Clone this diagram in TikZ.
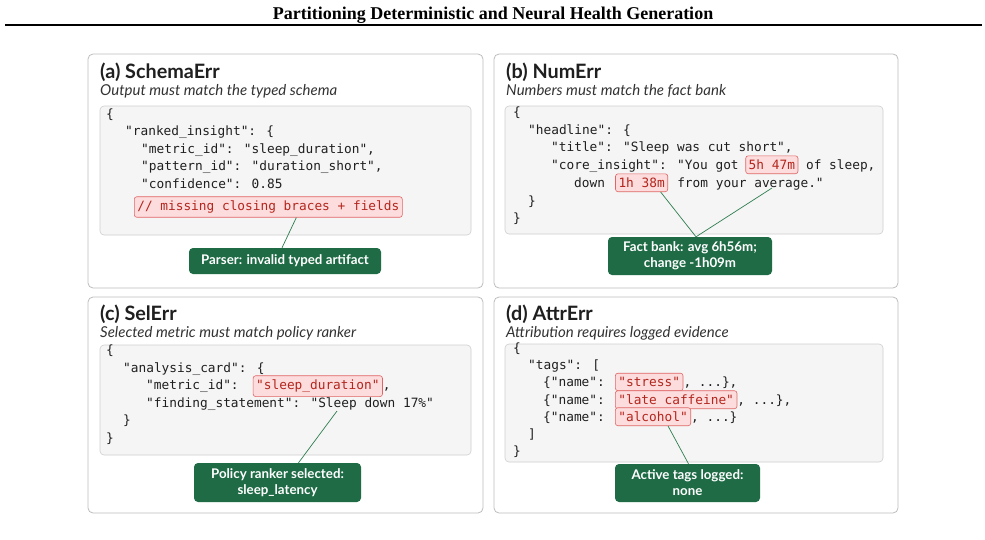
\documentclass[tikz,border=0pt]{standalone}
\usepackage{fontspec}
\setmainfont{Lato}
\newfontfamily\headfont{Liberation Serif}
\newfontfamily\monofont{DejaVu Sans Mono}
\usetikzlibrary{positioning}
\definecolor{cPanelB}{HTML}{BDBDBD}
\definecolor{cCode}{HTML}{F5F5F5}
\definecolor{cCodeB}{HTML}{CFCFCF}
\definecolor{cHl}{HTML}{FCDCDC}
\definecolor{cHlB}{HTML}{E06666}
\definecolor{cHlT}{HTML}{B3261E}
\definecolor{cVerd}{HTML}{1E6B45}
\definecolor{cTie}{HTML}{2E7D4F}
\definecolor{cInk}{HTML}{1F1F1F}
\newcommand{\codesize}{\monofont\fontsize{12.8}{15}\selectfont}
\tikzset{
  panel/.style   ={draw=cPanelB, fill=white, rounded corners=5pt, line width=0.8pt},
  codebox/.style ={draw=cCodeB, fill=cCode, rounded corners=4pt, line width=0.6pt},
  code/.style    ={anchor=mid west, inner sep=0pt, font=\codesize, text=cInk},
  hl/.style      ={draw=cHlB, fill=cHl, text=cHlT, rounded corners=2.5pt,
                   line width=0.6pt, inner xsep=3pt, inner ysep=4pt,
                   font=\codesize, anchor=mid west},
  ptitle/.style  ={anchor=base west, inner sep=0pt, text=cInk,
                   font=\bfseries\fontsize{19.8}{23}\selectfont},
  psub/.style    ={anchor=base west, inner sep=0pt, text=black!80,
                   font=\itshape\fontsize{15}{17}\selectfont},
  verdict/.style ={fill=cVerd, text=white, rounded corners=4pt, align=center,
                   font=\bfseries\fontsize{13.3}{16}\selectfont, inner sep=0pt},
  tie/.style     ={draw=cTie, line width=0.7pt},
}

\begin{document}
\begin{tikzpicture}[x=1pt, y=-1pt]
  \useasboundingbox (0,0) rectangle (985,539);

  % ---- page header ----
  \node[anchor=base, inner sep=0pt, font=\headfont\bfseries\fontsize{18}{20}\selectfont]
    (head) at (493,19) {Partitioning Deterministic and Neural Health Generation};
  \draw[line width=1.5pt] (5,25) -- (982,25);

  % ---- panel frames ----
  \draw[panel] (88,54) rectangle (483,288);
  \draw[panel] (494,54) rectangle (898,288);
  \draw[panel] (88,297) rectangle (483,513);
  \draw[panel] (494,297) rectangle (898,513);

  \draw[codebox] (100,106) rectangle (471,235);
  \draw[codebox] (505,106) rectangle (883,234);
  \draw[codebox] (100,345) rectangle (471,455);
  \draw[codebox] (505,344) rectangle (883,462);

  % ============================================================
  % (a) SchemaErr
  % ============================================================
  \node[ptitle] (tA) at (100,78) {(a) SchemaErr};
  \node[psub]   (sA) at (100,95) {Output must match the typed schema};

  \node[code] (a0) at (106,116) {\{};
  \node[code] (a1) at (125,133) {"ranked\_insight": \{};
  \node[code] (a2) at (141,151) {"metric\_id": "sleep\_duration",};
  \node[code] (a3) at (141,168) {"pattern\_id": "duration\_short",};
  \node[code] (a4) at (141,186) {"confidence": 0.85};
  \node[hl]   (hlA) at (134,208) {// missing closing braces + fields};

  \node[verdict, minimum width=192pt, minimum height=26pt] (vA) at (285,261)
    {Parser: invalid typed artifact};
  \draw[tie] ([xshift=28pt]hlA.south) -- ([xshift=-3pt]vA.north);

  % ============================================================
  % (b) NumErr
  % ============================================================
  \node[ptitle] (tB) at (506,78) {(b) NumErr};
  \node[psub]   (sB) at (506,95) {Numbers must match the fact bank};

  \node[code] (b0) at (513,114) {\{};
  \node[code] (b1) at (528,132) {"headline": \{};
  \node[code] (b2) at (551,149) {"title": "Sleep was cut short",};
  \node[code] (b3) at (551,167) {"core\_insight": "You got};
  \node[hl, right=6.5pt of b3.base east, anchor=base west] (hlB1) {5h 47m};
  \node[code, right=7.6pt of hlB1.base east, anchor=base west] (b3e) {of sleep,};
  \node[code] (b4) at (574,185) {down};
  \node[hl, right=10pt of b4.base east, anchor=base west] (hlB2) {1h 38m};
  \node[code, right=9pt of hlB2.base east, anchor=base west] (b4e) {from your average."};
  \node[code] (b5) at (528,203) {\}};
  \node[code] (b6) at (513,220) {\}};

  \node[verdict, minimum width=164pt, minimum height=38pt] (vB) at (690,256)
    {Fact bank: avg 6h56m;\\change -1h09m};
  \coordinate (avgB) at (772,188);
  \draw[tie] ([xshift=19pt]hlB2.south) -- ([xshift=6pt]vB.north);
  \draw[tie] (avgB) -- ([xshift=6pt]vB.north);

  % ============================================================
  % (c) SelErr
  % ============================================================
  \node[ptitle] (tC) at (100,320) {(c) SelErr};
  \node[psub]   (sC) at (100,337) {Selected metric must match policy ranker};

  \node[code] (c0) at (106,352) {\{};
  \node[code] (c1) at (123,370) {"analysis\_card": \{};
  \node[code] (c2) at (146,387) {"metric\_id":};
  \node[hl, right=14pt of c2.base east, anchor=base west] (hlC) {"sleep\_duration"};
  \node[code, right=0pt of hlC.base east, anchor=base west] (c2e) {,};
  \node[code] (c3) at (146,405) {"finding\_statement": "Sleep down 17\%"};
  \node[code] (c4) at (123,422) {\}};
  \node[code] (c5) at (106,440) {\}};

  \node[verdict, minimum width=167pt, minimum height=39pt] (vC) at (277.5,482.5)
    {Policy ranker selected:\\sleep\_latency};
  \coordinate (stmtC) at (337,411);
  \draw[tie] (stmtC) -- ([xshift=21pt]vC.north);

  % ============================================================
  % (d) AttrErr
  % ============================================================
  \node[ptitle] (tD) at (506,320) {(d) AttrErr};
  \node[psub]   (sD) at (506,337) {Attribution requires logged evidence};

  \node[code] (d0) at (513,350) {\{};
  \node[code] (d1) at (528,367) {"tags": [};
  \node[code] (d2) at (543,384) {\{"name":};
  \node[hl, right=10pt of d2.base east, anchor=base west] (hlD1) {"stress"};
  \node[code, right=0pt of hlD1.base east, anchor=base west] (d2e) {, ...\},};
  \node[code] (d3) at (543,402) {\{"name":};
  \node[hl, right=10pt of d3.base east, anchor=base west] (hlD2) {"late caffeine"};
  \node[code, right=0pt of hlD2.base east, anchor=base west] (d3e) {, ...\},};
  \node[code] (d4) at (543,419) {\{"name":};
  \node[hl, right=10pt of d4.base east, anchor=base west] (hlD3) {"alcohol"};
  \node[code, right=0pt of hlD3.base east, anchor=base west] (d4e) {, ...\}};
  \node[code] (d5) at (528,436) {]};
  \node[code] (d6) at (513,453) {\}};

  \node[verdict, minimum width=145pt, minimum height=38pt] (vD) at (687.5,483)
    {Active tags logged:\\none};
  \draw[tie] ([xshift=15pt]hlD3.south) -- ([xshift=1pt]vD.north);

\end{tikzpicture}
\end{document}
